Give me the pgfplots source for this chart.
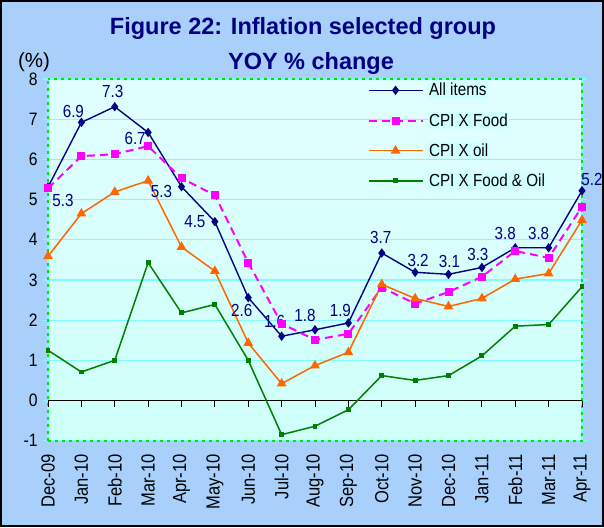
\documentclass[border=0pt]{standalone}
\usepackage{fontspec}
\setmainfont{Liberation Sans}
\newfontfamily\narrow[FakeStretch=0.87]{Liberation Sans}
\usepackage{pgfplots}
\pgfplotsset{compat=1.18}
\definecolor{outerbg}{RGB}{168,208,250}
\definecolor{plottop}{RGB}{224,255,255}
\definecolor{plotbot}{RGB}{206,255,248}
\definecolor{gridcyan}{RGB}{128,250,250}
\definecolor{navy}{RGB}{0,0,128}
\definecolor{mag}{RGB}{255,0,255}
\definecolor{orng}{RGB}{255,102,0}
\definecolor{grn}{RGB}{0,128,0}
\definecolor{brdgreen}{RGB}{0,230,0}
\definecolor{legcyan}{RGB}{208,255,255}
\begin{document}
\begin{tikzpicture}[x=1pt,y=1pt]
\fill[outerbg] (0,0) rectangle (604,527);
\draw[black, line width=2pt] (1,1) rectangle (603,526);
\useasboundingbox (0,0) rectangle (604,527);
\node[anchor=base, font=\bfseries\fontsize{23.5}{28}\selectfont, text=navy, inner sep=0pt] at (303,492) {Figure 22: Inflation selected group};
\node[anchor=base, font=\bfseries\fontsize{23.5}{28}\selectfont, text=navy, inner sep=0pt] at (311,457.7) {YOY \% change};
\node[anchor=base, font=\fontsize{20.5}{24}\selectfont, inner sep=0pt] at (34,459.7) {(\%)};
\begin{axis}[
  at={(48pt,86.3pt)}, anchor=south west,
  width=534pt, height=361.7pt, scale only axis,
  xmin=0, xmax=16, ymin=-1, ymax=8,
  clip=false,
  axis line style={draw=none},
  axis background/.style={top color=plottop, bottom color=plotbot},
  xtick={0,...,16},
  xticklabels={Dec-09,Jan-10,Feb-10,Mar-10,Apr-10,May-10,Jun-10,Jul-10,Aug-10,Sep-10,Oct-10,Nov-10,Dec-10,Jan-11,Feb-11,Mar-11,Apr-11},
  xticklabel style={rotate=90, anchor=east, font=\narrow\fontsize{19}{22}\selectfont},
  xticklabel shift=5pt,
  x tick style={draw=none},
  ytick={-1,...,8},
  yticklabel style={font=\narrow\fontsize{18}{21}\selectfont, anchor=east},
  y tick style={draw=gridcyan, line width=1.2pt},
  tick align=outside,
  major tick length=5pt,
  yticklabel shift=2pt,
  /pgf/number format/assume math mode=true,
  ymajorgrids,
  grid style={gridcyan, line width=1.2pt},
  legend style={at={(rel axis cs:0.598,0.993)}, anchor=north west, draw=none, fill=none,
    font=\narrow\fontsize{17.5}{20}\selectfont, row sep=13pt, inner sep=0pt,
    /tikz/every odd column/.append style={column sep=4pt},
    /tikz/every even column/.append style={nodes={fill=legcyan, inner sep=1.5pt}}},
  legend cell align=left,
  legend image code/.code={\draw[mark repeat=2,mark phase=2,#1] plot coordinates {(0pt,0pt) (27pt,0pt) (54pt,0pt)};},
]
\draw[gridcyan, line width=1.2pt] (rel axis cs:0,0) rectangle (rel axis cs:1,1);
\draw[brdgreen, line width=2.2pt, dash pattern=on 3pt off 4pt] (rel axis cs:0,0) -- (rel axis cs:1,0) -- (rel axis cs:1,1) -- (rel axis cs:0,1);
\draw[brdgreen, line width=1.2pt, dash pattern=on 3pt off 4pt] (rel axis cs:0,0) -- (rel axis cs:0,1);
\draw[black, line width=1.3pt] (axis cs:0,0) -- (axis cs:16,0);
\pgfplotsinvokeforeach{0,...,16}{\draw[black, line width=1pt] (axis cs:#1,0) -- ++(0pt,-6pt);}

\addplot[navy, line width=1.4pt, mark=diamond*, mark size=3.6pt, mark options={solid, fill=navy}] coordinates {
(0,5.31) (1,6.92) (2,7.31) (3,6.67) (4,5.32) (5,4.45) (6,2.56) (7,1.60) (8,1.76) (9,1.93) (10,3.67) (11,3.19) (12,3.14) (13,3.31) (14,3.80) (15,3.80) (16,5.22)};
\addlegendentry{All items}
\addplot[mag, line width=2pt, dash pattern=on 8pt off 5pt, mark=square*, mark size=3pt, mark options={solid, fill=mag}] coordinates {
(0,5.28) (1,6.08) (2,6.13) (3,6.33) (4,5.53) (5,5.11) (6,3.43) (7,1.91) (8,1.51) (9,1.66) (10,2.81) (11,2.41) (12,2.70) (13,3.08) (14,3.72) (15,3.55) (16,4.82)};
\addlegendentry{CPI X Food}
\addplot[orng, line width=1.5pt, mark=triangle*, mark size=4.2pt, mark options={solid, fill=orng}] coordinates {
(0,3.59) (1,4.65) (2,5.19) (3,5.47) (4,3.82) (5,3.22) (6,1.43) (7,0.42) (8,0.87) (9,1.20) (10,2.89) (11,2.54) (12,2.34) (13,2.54) (14,3.02) (15,3.16) (16,4.49)};
\addlegendentry{CPI X oil}
\addplot[grn, line width=1.5pt, mark=square*, mark size=1.7pt, mark options={solid, fill=grn}] coordinates {
(0,1.25) (1,0.71) (2,1.00) (3,3.43) (4,2.18) (5,2.39) (6,1.00) (7,-0.85) (8,-0.64) (9,-0.23) (10,0.62) (11,0.50) (12,0.62) (13,1.11) (14,1.85) (15,1.89) (16,2.83)};
\addlegendentry{CPI X Food \& Oil}

\begin{scope}[every node/.style={text=navy, font=\narrow\fontsize{17.5}{20}\selectfont, inner sep=0pt}]
\node[xshift=15pt, yshift=-13pt] at (axis cs:0,5.31) {5.3};
\node[xshift=-8pt, yshift=11pt] at (axis cs:1,6.92) {6.9};
\node[xshift=-2pt, yshift=15pt] at (axis cs:2,7.31) {7.3};
\node[xshift=-13pt, yshift=-6pt] at (axis cs:3,6.67) {6.7};
\node[xshift=-20pt, yshift=-5pt] at (axis cs:4,5.32) {5.3};
\node[xshift=-20pt, yshift=0pt] at (axis cs:5,4.45) {4.5};
\node[xshift=-6.5pt, yshift=-13pt] at (axis cs:6,2.56) {2.6};
\node[xshift=-7pt, yshift=15pt] at (axis cs:7,1.60) {1.6};
\node[xshift=-10pt, yshift=14pt] at (axis cs:8,1.76) {1.8};
\node[xshift=-8pt, yshift=12pt] at (axis cs:9,1.93) {1.9};
\node[xshift=-1pt, yshift=16pt] at (axis cs:10,3.67) {3.7};
\node[xshift=3pt, yshift=12pt] at (axis cs:11,3.19) {3.2};
\node[xshift=1pt, yshift=13pt] at (axis cs:12,3.14) {3.1};
\node[xshift=-4pt, yshift=13pt] at (axis cs:13,3.31) {3.3};
\node[xshift=-10pt, yshift=14pt] at (axis cs:14,3.80) {3.8};
\node[xshift=-10pt, yshift=14pt] at (axis cs:15,3.80) {3.8};
\node[xshift=10pt, yshift=11pt] at (axis cs:16,5.22) {5.2};
\end{scope}
\end{axis}
\end{tikzpicture}
\end{document}
